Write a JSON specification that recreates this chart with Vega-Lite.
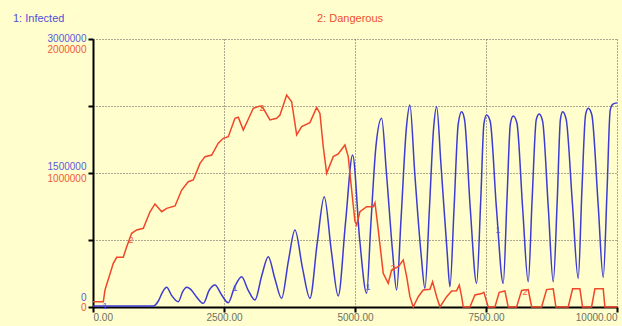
{
 "$schema": "https://vega.github.io/schema/vega-lite/v6.json",
 "width": 524, "height": 268,
 "autosize": {"type": "none"},
 "padding": {"left": 93, "top": 39, "right": 5, "bottom": 19},
 "background": "#fffecc",
 "config": {"view": {"stroke": null}, "font": "Liberation Sans"},
 "datasets": {
  "infected": [
   {"t":0,"v":10000},{"t":1150,"v":10000},{"t":1250,"v":70000},{"t":1330,"v":170000},{"t":1406,"v":220000},{"t":1500,"v":130000},{"t":1628,"v":60000},{"t":1710,"v":170000},{"t":1788,"v":220000},{"t":1860,"v":200000},{"t":1979,"v":110000},{"t":2105,"v":41000},{"t":2220,"v":190000},{"t":2328,"v":246000},{"t":2450,"v":140000},{"t":2581,"v":48000},{"t":2700,"v":220000},{"t":2837,"v":339000},{"t":2960,"v":190000},{"t":3091,"v":78000},{"t":3220,"v":350000},{"t":3345,"v":563000},{"t":3470,"v":320000},{"t":3600,"v":97000},{"t":3730,"v":520000},{"t":3854,"v":862000},{"t":4000,"v":430000},{"t":4140,"v":97000},{"t":4280,"v":720000},{"t":4413,"v":1235000},{"t":4550,"v":620000},{"t":4680,"v":123000},{"t":4820,"v":950000},{"t":4955,"v":1701000},{"t":5090,"v":750000},{"t":5222,"v":153000},{"t":5300,"v":900000},{"t":5400,"v":1800000},{"t":5508,"v":2112000},{"t":5600,"v":1500000},{"t":5720,"v":600000},{"t":5794,"v":190000},{"t":5880,"v":1000000},{"t":5980,"v":2000000},{"t":6048,"v":2261000},{"t":6140,"v":1500000},{"t":6260,"v":600000},{"t":6335,"v":209000},{"t":6420,"v":1100000},{"t":6500,"v":2000000},{"t":6558,"v":2242000},{"t":6640,"v":1600000},{"t":6760,"v":600000},{"t":6812,"v":227000},{"t":6890,"v":1100000},{"t":6970,"v":2050000},{"t":7035,"v":2186000},{"t":7090,"v":2100000},{"t":7200,"v":1100000},{"t":7321,"v":265000},{"t":7400,"v":1200000},{"t":7460,"v":2050000},{"t":7512,"v":2149000},{"t":7580,"v":2080000},{"t":7700,"v":1100000},{"t":7829,"v":265000},{"t":7900,"v":1200000},{"t":7965,"v":2050000},{"t":8020,"v":2138000},{"t":8090,"v":2060000},{"t":8200,"v":1100000},{"t":8306,"v":283000},{"t":8380,"v":1200000},{"t":8460,"v":2100000},{"t":8516,"v":2160000},{"t":8580,"v":2080000},{"t":8690,"v":1100000},{"t":8783,"v":283000},{"t":8860,"v":1200000},{"t":8920,"v":2100000},{"t":8962,"v":2186000},{"t":9030,"v":2100000},{"t":9150,"v":1150000},{"t":9260,"v":321000},{"t":9330,"v":1300000},{"t":9400,"v":2150000},{"t":9451,"v":2224000},{"t":9520,"v":2150000},{"t":9640,"v":1150000},{"t":9737,"v":333000},{"t":9810,"v":1300000},{"t":9870,"v":2200000},{"t":9922,"v":2272000},{"t":10000,"v":2285000}
  ],
  "dangerous": [
   {"t":0,"v":40000},{"t":197,"v":40000},{"t":229,"v":127000},{"t":387,"v":326000},{"t":452,"v":371000},{"t":578,"v":372000},{"t":643,"v":450000},{"t":738,"v":550000},{"t":834,"v":575000},{"t":960,"v":587000},{"t":1088,"v":711000},{"t":1183,"v":769000},{"t":1311,"v":711000},{"t":1406,"v":736000},{"t":1565,"v":754000},{"t":1692,"v":873000},{"t":1818,"v":935000},{"t":1914,"v":948000},{"t":2042,"v":1072000},{"t":2137,"v":1122000},{"t":2265,"v":1134000},{"t":2391,"v":1222000},{"t":2486,"v":1259000},{"t":2582,"v":1271000},{"t":2709,"v":1408000},{"t":2772,"v":1416000},{"t":2868,"v":1321000},{"t":2963,"v":1401000},{"t":3059,"v":1483000},{"t":3186,"v":1500000},{"t":3249,"v":1483000},{"t":3377,"v":1396000},{"t":3505,"v":1408000},{"t":3568,"v":1433000},{"t":3696,"v":1582000},{"t":3791,"v":1532000},{"t":3887,"v":1284000},{"t":3982,"v":1346000},{"t":4140,"v":1376000},{"t":4268,"v":1490000},{"t":4331,"v":1445000},{"t":4394,"v":1196000},{"t":4459,"v":998000},{"t":4585,"v":1122000},{"t":4680,"v":1142000},{"t":4808,"v":1209000},{"t":4871,"v":1122000},{"t":4936,"v":873000},{"t":4999,"v":640000},{"t":5032,"v":612000},{"t":5094,"v":711000},{"t":5222,"v":749000},{"t":5348,"v":749000},{"t":5381,"v":778000},{"t":5444,"v":575000},{"t":5539,"v":251000},{"t":5634,"v":177000},{"t":5699,"v":276000},{"t":5825,"v":301000},{"t":5921,"v":351000},{"t":5986,"v":226000},{"t":6048,"v":77000},{"t":6111,"v":0},{"t":6207,"v":77000},{"t":6302,"v":127000},{"t":6430,"v":132000},{"t":6481,"v":189000},{"t":6558,"v":77000},{"t":6621,"v":0},{"t":6749,"v":77000},{"t":6844,"v":120000},{"t":6940,"v":122000},{"t":6990,"v":164000},{"t":7035,"v":77000},{"t":7066,"v":0},{"t":7193,"v":0},{"t":7289,"v":90000},{"t":7416,"v":100000},{"t":7460,"v":110000},{"t":7542,"v":0},{"t":7670,"v":0},{"t":7752,"v":110000},{"t":7861,"v":120000},{"t":7924,"v":0},{"t":8084,"v":0},{"t":8180,"v":124000},{"t":8306,"v":130000},{"t":8371,"v":0},{"t":8561,"v":0},{"t":8656,"v":130000},{"t":8783,"v":136000},{"t":8834,"v":0},{"t":9069,"v":0},{"t":9153,"v":136000},{"t":9292,"v":136000},{"t":9343,"v":0},{"t":9515,"v":0},{"t":9578,"v":136000},{"t":9737,"v":136000},{"t":9769,"v":0},{"t":10000,"v":0}
  ],
  "bluelabels": [
   {"t":229,"v":10000,"lab":"1"},{"t":2709,"v":210000,"lab":"1"},{"t":5247,"v":224000,"lab":"1"},{"t":7727,"v":862000,"lab":"1"}
  ],
  "redlabels": [
   {"t":725,"v":500000,"lab":"2"},{"t":3224,"v":1485000,"lab":"2"},{"t":5724,"v":291000,"lab":"2"},{"t":8243,"v":114000,"lab":"2"}
  ]
 },
 "layer": [
  {
   "data": {"name": "infected"},
   "transform": [{"calculate": "'1: Infected'", "as": "s"}],
   "mark": {"type": "line", "strokeWidth": 1.5, "interpolate": "monotone"},
   "encoding": {
    "x": {"field": "t", "type": "quantitative", "scale": {"domain": [0, 10000], "nice": false},
     "axis": {"values": [0, 2500, 5000, 7500, 10000], "format": ".2f", "grid": true, "gridDash": [1, 2], "gridColor": "#555555", "gridWidth": 1,
      "domainColor": "#000000", "domainWidth": 2, "tickColor": "#000000", "tickWidth": 2, "tickSize": 5,
      "labelColor": "#6f7060", "labelFontSize": 10, "labelFlush": true, "labelPadding": 0, "title": null}},
    "y": {"field": "v", "type": "quantitative", "scale": {"domain": [0, 3000000], "nice": false},
     "axis": {"orient": "left", "values": [0, 750000, 1500000, 2250000, 3000000], "format": "d",
      "labelExpr": "datum.value % 1500000 === 0 ? datum.label : ''",
      "grid": true, "gridDash": [1, 2], "gridColor": "#555555", "gridWidth": 1,
      "domainColor": "#000000", "domainWidth": 2, "tickColor": "#000000", "tickWidth": 2, "tickSize": 5,
      "labelColor": "#5a5ae0", "labelFontSize": 10,
      "labelOffset": {"condition": [{"test": "datum.value === 0", "value": -10}, {"test": "datum.value === 3000000", "value": -1}], "value": -7},
      "labelPadding": 2, "labelOverlap": false, "title": null}},
    "color": {"field": "s", "type": "nominal",
     "scale": {"domain": ["1: Infected", "2: Dangerous"], "range": ["#3c3cd2", "#f0462a"]},
     "legend": {"orient": "none", "legendX": -91, "legendY": -26, "direction": "horizontal", "title": null,
      "symbolSize": 0, "symbolStrokeWidth": 0, "symbolOpacity": 0, "labelOffset": 0, "labelFontSize": 11, "columnPadding": 241,
      "encode": {"labels": {"update": {"fill": {"signal": "datum.value === '1: Infected' ? '#5050d8' : '#f05030'"}}}}}}
   }
  },
  {
   "data": {"name": "bluelabels"},
   "mark": {"type": "text", "fontSize": 9, "color": "#5a5ae0"},
   "encoding": {
    "x": {"field": "t", "type": "quantitative"},
    "y": {"field": "v", "type": "quantitative", "scale": {"domain": [0, 3000000], "nice": false}, "axis": null},
    "text": {"field": "lab"}
   }
  },
  {
   "data": {"name": "dangerous"},
   "transform": [{"calculate": "'2: Dangerous'", "as": "s"}],
   "mark": {"type": "line", "strokeWidth": 1.5},
   "encoding": {
    "x": {"field": "t", "type": "quantitative"},
    "y": {"field": "v", "type": "quantitative", "scale": {"domain": [0, 2000000], "nice": false},
     "axis": {"orient": "left", "values": [0, 1000000, 2000000], "format": "d", "grid": false, "domain": false,
      "ticks": true, "tickOpacity": 0, "tickSize": 5, "labelColor": "#f05a3a", "labelFontSize": 10,
      "labelOffset": {"condition": [{"test": "datum.value === 0", "value": 0}, {"test": "datum.value === 2000000", "value": 10}], "value": 5},
      "labelPadding": 2, "labelOverlap": false, "title": null}},
    "color": {"field": "s", "type": "nominal"}
   }
  },
  {
   "data": {"name": "redlabels"},
   "mark": {"type": "text", "fontSize": 9, "color": "#f05a3a"},
   "encoding": {
    "x": {"field": "t", "type": "quantitative"},
    "y": {"field": "v", "type": "quantitative", "scale": {"domain": [0, 2000000], "nice": false}, "axis": null},
    "text": {"field": "lab"}
   }
  }
 ],
 "resolve": {"scale": {"y": "independent"}}
}
